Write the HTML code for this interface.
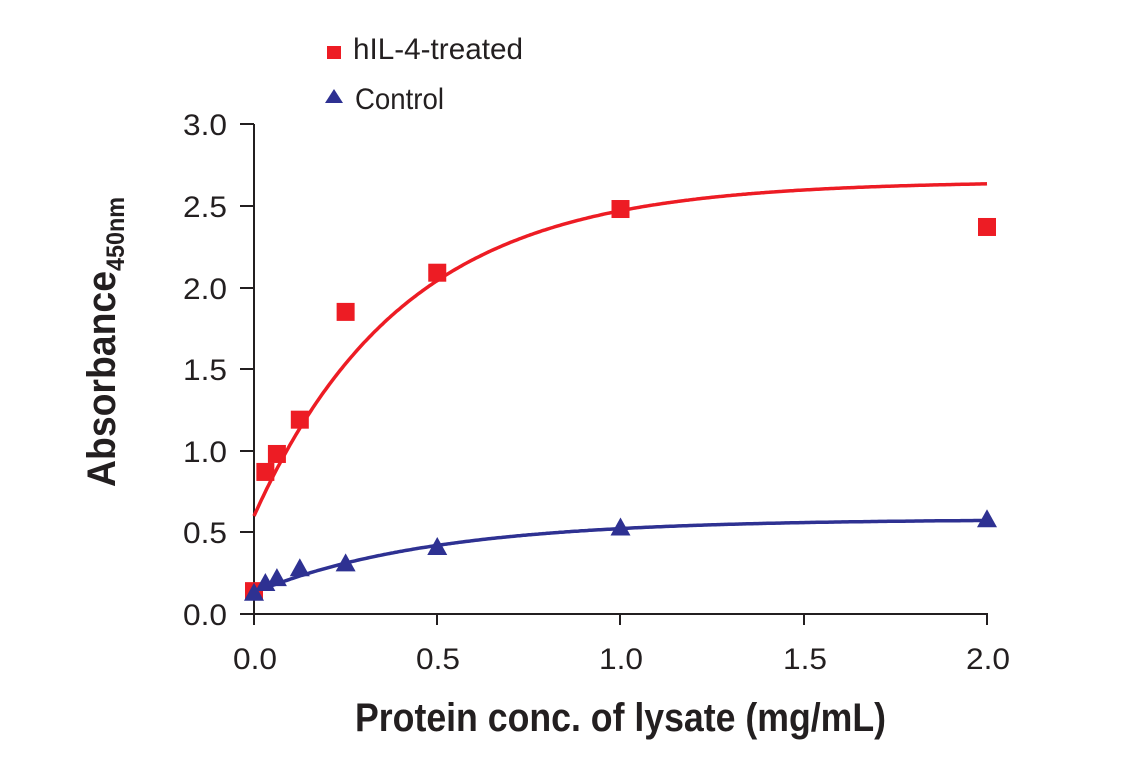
<!DOCTYPE html>
<html><head><meta charset="utf-8"><style>
html,body{margin:0;padding:0;background:#fff;}
svg text{font-family:"Liberation Sans",sans-serif;fill:#231f20;}
</style></head><body>
<svg id="s" width="1141" height="768" viewBox="0 0 1141 768" xmlns="http://www.w3.org/2000/svg">
<g stroke="#231f20" stroke-width="2" fill="none">
<line x1="254" y1="124" x2="254" y2="625"/>
<line x1="240" y1="614" x2="988" y2="614"/>
<line x1="240" y1="124" x2="254" y2="124"/>
<line x1="240" y1="206" x2="254" y2="206"/>
<line x1="240" y1="288" x2="254" y2="288"/>
<line x1="240" y1="369" x2="254" y2="369"/>
<line x1="240" y1="451" x2="254" y2="451"/>
<line x1="240" y1="532" x2="254" y2="532"/>
<line x1="437" y1="614" x2="437" y2="625"/>
<line x1="620" y1="614" x2="620" y2="625"/>
<line x1="804" y1="614" x2="804" y2="625"/>
<line x1="987" y1="614" x2="987" y2="625"/>
</g>
<g font-size="30" lengthAdjust="spacingAndGlyphs">
<text x="183" y="135" textLength="44" lengthAdjust="spacingAndGlyphs">3.0</text>
<text x="183" y="217" textLength="44" lengthAdjust="spacingAndGlyphs">2.5</text>
<text x="183" y="299" textLength="44" lengthAdjust="spacingAndGlyphs">2.0</text>
<text x="183" y="380" textLength="44" lengthAdjust="spacingAndGlyphs">1.5</text>
<text x="183" y="462" textLength="44" lengthAdjust="spacingAndGlyphs">1.0</text>
<text x="183" y="543" textLength="44" lengthAdjust="spacingAndGlyphs">0.5</text>
<text x="183" y="625" textLength="44" lengthAdjust="spacingAndGlyphs">0.0</text>
<text x="233" y="669" textLength="44" lengthAdjust="spacingAndGlyphs">0.0</text>
<text x="416" y="669" textLength="44" lengthAdjust="spacingAndGlyphs">0.5</text>
<text x="599" y="669" textLength="44" lengthAdjust="spacingAndGlyphs">1.0</text>
<text x="783" y="669" textLength="44" lengthAdjust="spacingAndGlyphs">1.5</text>
<text x="966" y="669" textLength="44" lengthAdjust="spacingAndGlyphs">2.0</text>
</g>
<text x="355" y="731" font-size="40" font-weight="bold" textLength="531" lengthAdjust="spacingAndGlyphs">Protein conc. of lysate (mg/mL)</text>
<text transform="translate(115,487) rotate(-90)" font-size="40" font-weight="bold" textLength="290" lengthAdjust="spacingAndGlyphs">Absorbance<tspan font-size="25" dy="9">450nm</tspan></text>
<rect x="327" y="46" width="14" height="13" fill="#ed1c24"/>
<text x="353" y="59" font-size="30" textLength="170" lengthAdjust="spacingAndGlyphs">hIL-4-treated</text>
<polygon points="325,103 343,103 334,89" fill="#2e3192"/>
<text x="355" y="109" font-size="30" textLength="89" lengthAdjust="spacingAndGlyphs">Control</text>
<g id="g"></g>
</svg>
<script>
var X=function(v){return 254+v*366.5},Y=function(v){return 614-v*163.3};
var g=document.getElementById('g'),ns='http://www.w3.org/2000/svg';
function path(f,c){var d='';for(var i=0;i<=400;i++){var x=i/200;d+=(i?'L':'M')+X(x).toFixed(1)+' '+Y(f(x)).toFixed(1);}
var p=document.createElementNS(ns,'path');p.setAttribute('d',d);p.setAttribute('stroke',c);p.setAttribute('stroke-width','3.5');p.setAttribute('fill','none');g.appendChild(p);}
path(function(x){return 2.65-2.05*Math.exp(-2.43*x)},'#ed1c24');
path(function(x){return 0.58-0.45*Math.exp(-2.07*x)},'#2e3192');
var r=[[0,0.14],[0.031,0.87],[0.0625,0.98],[0.125,1.19],[0.25,1.85],[0.5,2.09],[1,2.48],[2,2.37]];
var b=[[0,0.13],[0.031,0.19],[0.0625,0.22],[0.125,0.28],[0.25,0.31],[0.5,0.41],[1,0.53],[2,0.58]];
r.forEach(function(p){var e=document.createElementNS(ns,'rect');e.setAttribute('x',X(p[0])-9);e.setAttribute('y',Y(p[1])-9);e.setAttribute('width',18);e.setAttribute('height',18);e.setAttribute('fill','#ed1c24');g.appendChild(e);});
b.forEach(function(p){var x=X(p[0]),y=Y(p[1]);var e=document.createElementNS(ns,'polygon');e.setAttribute('points',(x-10)+','+(y+8)+' '+(x+10)+','+(y+8)+' '+x+','+(y-10));e.setAttribute('fill','#2e3192');g.appendChild(e);});
</script>
</body></html>
